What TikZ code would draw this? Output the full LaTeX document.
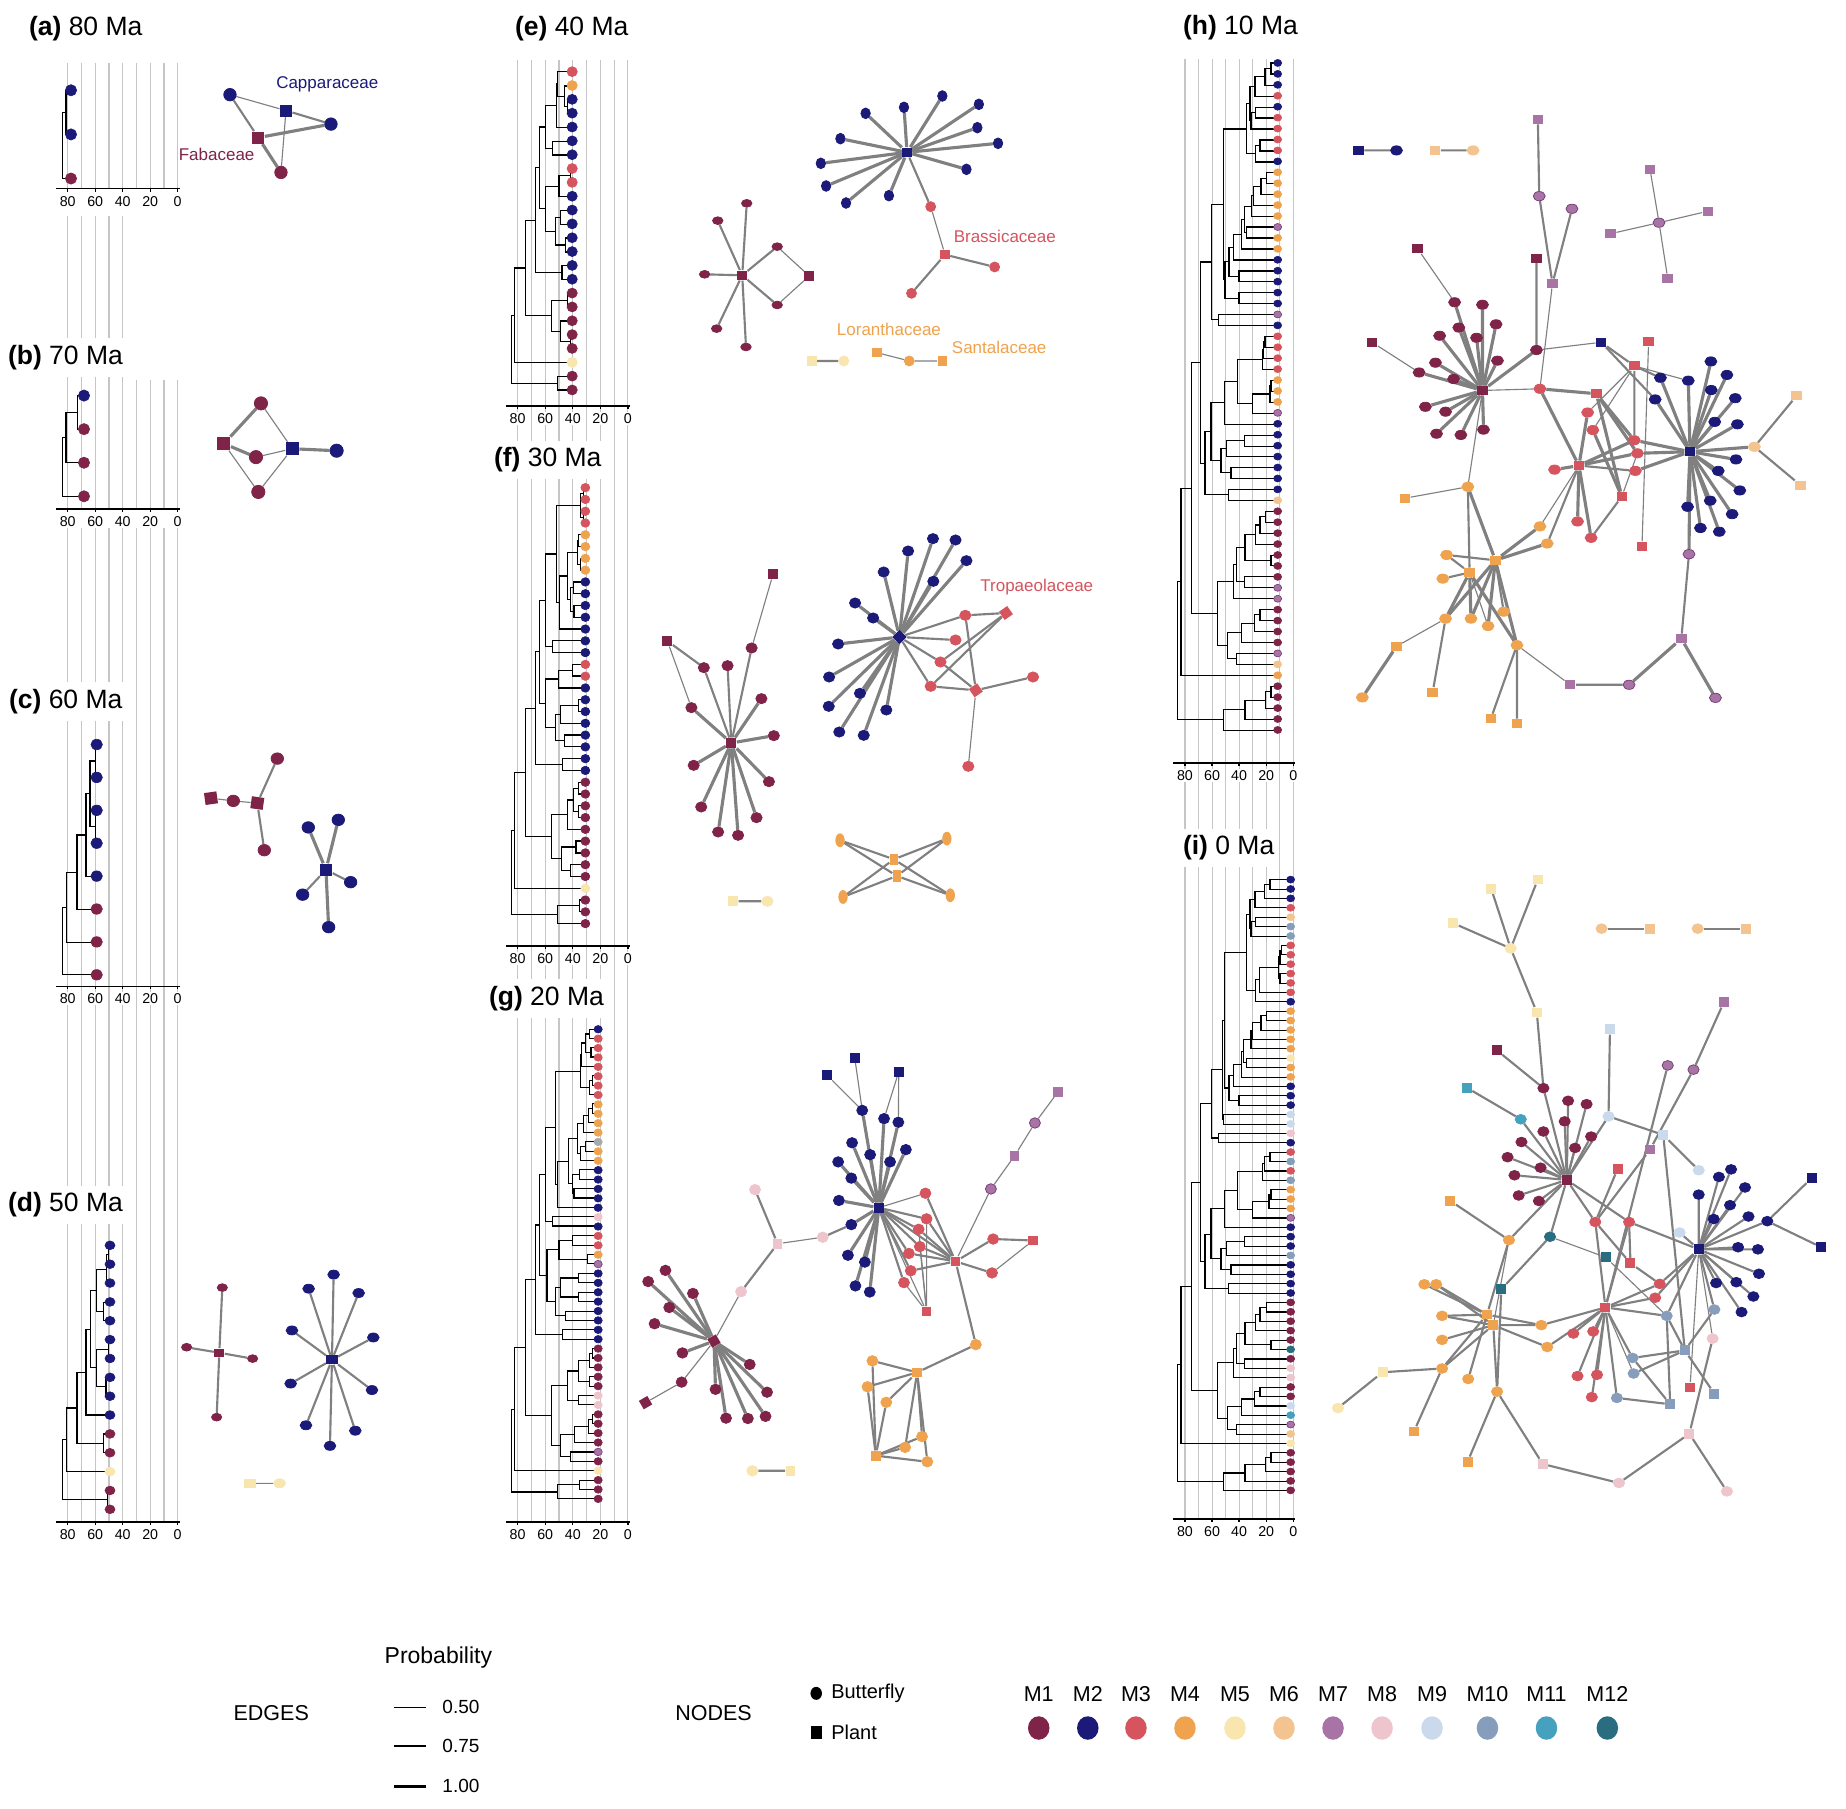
\documentclass[tikz,border=0pt]{standalone}
\usepackage{fontspec}
\setmainfont{Liberation Sans}
\usetikzlibrary{shapes.geometric}
\pgfdeclarelayer{back}
\pgfdeclarelayer{edges}
\pgfsetlayers{back,edges,main}
\definecolor{cM1}{HTML}{7F2349}
\definecolor{cM2}{HTML}{1B1A79}
\definecolor{cM3}{HTML}{D5545E}
\definecolor{cM4}{HTML}{EFA34E}
\definecolor{cM5}{HTML}{F8E6AE}
\definecolor{cM6}{HTML}{F3C48F}
\definecolor{cM7}{HTML}{A874A6}
\definecolor{cM8}{HTML}{EFC5CD}
\definecolor{cM9}{HTML}{CBD9EC}
\definecolor{cM10}{HTML}{869EBC}
\definecolor{cM11}{HTML}{45A1BD}
\definecolor{cM12}{HTML}{2B6D80}
\definecolor{cMG}{HTML}{AAAAAA}
\colorlet{cO1}{cM1}\colorlet{cO2}{cM2}\colorlet{cO3}{cM3}\colorlet{cO4}{cM4}
\colorlet{cO5}{cM5}\colorlet{cO6}{cM6}\definecolor{cO7}{HTML}{763C76}\colorlet{cO8}{cM8}
\colorlet{cO9}{cM9}\colorlet{cO10}{cM10}\colorlet{cO11}{cM11}\colorlet{cO12}{cM12}\colorlet{cOG}{cMG}
\definecolor{edgec}{HTML}{808080}
\definecolor{gridc}{HTML}{C6C6C6}
\def\tpw{4pt}\def\tph{4pt}\def\nbw{4pt}\def\nbh{4pt}\def\npw{4pt}\def\nph{4pt}
\tikzset{
 tr/.style={line width=0.45pt, black},
 grd/.style={line width=0.45pt, gridc},
 ax/.style={line width=0.55pt, black},
 w1/.style={line width=0.45pt, edgec},
 w2/.style={line width=0.85pt, edgec},
 w3/.style={line width=1.25pt, edgec},
 tip/.style={ellipse, inner sep=0pt, minimum width=\tpw, minimum height=\tph, fill=cM#1, draw=cO#1, line width=0.25pt},
 bf/.style={ellipse, inner sep=0pt, minimum width=\nbw, minimum height=\nbh, fill=cM#1, draw=cO#1, line width=0.3pt},
 pl/.style={rectangle, inner sep=0pt, minimum width=\npw, minimum height=\nph, fill=cM#1},
 ttl/.style={fill=white, inner xsep=1pt, inner ysep=2.8pt, anchor=west, font=\fontsize{10.6}{12}\selectfont},
 tck/.style={fill=white, inner sep=0.6pt, font=\fontsize{5.7}{6.5}\selectfont},
 flab/.style={inner sep=0pt, font=\fontsize{6.8}{8}\selectfont},
 tall/.style={minimum width=3.4pt, minimum height=5.2pt},
 lg/.style={inner sep=0pt, font=\fontsize{8.6}{10}\selectfont},
 lgs/.style={inner sep=0pt, font=\fontsize{8}{9}\selectfont},
}
\newcommand\nB[4]{\node[bf=#2] (#1) at (#3,#4) {};}
\newcommand\nP[4]{\node[pl=#2] (#1) at (#3,#4) {};}
\newcommand\Eg[3]{\foreach \q in {#3}{\draw[#1] (#2) -- (\q);}}
\newcommand\TN[5]{\draw[tr] (#3,#2) -| (#1,#4) -- (#5,#4);}
\newcommand\Tips[4]{\foreach \cc [count=\kk] in {#4}{\node[tip=\cc] (#1\kk) at (\TX,{#2+(\kk-1)*#3}) {};}}
\newcommand\Axis[4]{%
 \draw[ax] ({#1-#2*88.5},#3) -- ({#1+#2*1.5},#3);
 \foreach \a in {80,60,40,20,0}{%
 \draw[ax] ({#1-#2*\a},#3) -- ({#1-#2*\a},{#3+3});
 \node[tck] (#4\a) at ({#1-#2*\a},{#3+12.5}) {\a};}}
\begin{document}
\begin{tikzpicture}[x=0.4pt,y=-0.4pt]
\useasboundingbox (0,0) rectangle (1846,1808);
\begin{pgfonlayer}{back}\fill[white] (0,0) rectangle (1846,1808);\end{pgfonlayer}
% ---------- gridlines ----------
\foreach \a in {80,70,...,0}{\draw[grd] ({177.7-1.375*\a},62.5) -- ({177.7-1.375*\a},188.6);}
\foreach \a in {80,70,60,50,40}{\draw[grd] ({177.7-1.375*\a},216) -- ({177.7-1.375*\a},508.8);}
\foreach \a in {30,20,10,0}{\draw[grd] ({177.7-1.375*\a},380) -- ({177.7-1.375*\a},508.8);}
\foreach \a in {80,70,...,0}{\draw[grd] ({177.7-1.375*\a},528) -- ({177.7-1.375*\a},1522);}
\foreach \a in {80,70,...,0}{\draw[grd] ({627.9-1.378*\a},60) -- ({627.9-1.378*\a},1522);}
\foreach \a in {80,70,...,0}{\draw[grd] ({1293.3-1.354*\a},59) -- ({1293.3-1.354*\a},1519);}
% ---------- axes ----------
\Axis{177.7}{1.375}{188.6}{xa}
\Axis{177.7}{1.375}{508.8}{xb}
\Axis{177.7}{1.375}{986.2}{xc}
\Axis{177.7}{1.375}{1522}{xd}
\Axis{627.9}{1.378}{406}{xe}
\Axis{627.9}{1.378}{946}{xf}
\Axis{627.9}{1.378}{1522}{xg}
\Axis{1293.3}{1.354}{763}{xh}
\Axis{1293.3}{1.354}{1519}{xi}
% ---------- titles ----------
\node[ttl] (Ta) at (26,28.7) {\textbf{(a)} 80 Ma};
\node[ttl] (Tb) at (5,357.7) {\textbf{(b)} 70 Ma};
\node[ttl] (Tc) at (6,701.7) {\textbf{(c)} 60 Ma};
\node[ttl] (Td) at (5,1205) {\textbf{(d)} 50 Ma};
\node[ttl] (Te) at (512,28.3) {\textbf{(e)} 40 Ma};
\node[ttl] (Tf) at (491,460) {\textbf{(f)} 30 Ma};
\node[ttl] (Tg) at (486,998.6) {\textbf{(g)} 20 Ma};
\node[ttl] (Th) at (1180,28) {\textbf{(h)} 10 Ma};
\node[ttl] (Ti) at (1180,848) {\textbf{(i)} 0 Ma};
% ---------- panels a, b ----------
\begin{scope}[shift={(0,0)},xscale=0.3333,yscale=0.3381]
\def\TX{213}\def\tpw{4.5pt}\def\tph{4.5pt}
\TN{198}{267}{\TX}{398}{\TX}
\TN{188}{332.5}{198}{528}{\TX}
\Tips{ka}{267}{130.5}{2,2,1}
\def\nbw{5pt}\def\nbh{5pt}\def\npw{4.8pt}\def\nph{4.8pt}
\nB{a1}{2}{690}{280}\nP{a2}{2}{858}{327}\nB{a3}{2}{993}{367}\nP{a4}{1}{775}{407}\nB{a5}{1}{843}{510}
\begin{pgfonlayer}{edges}
\Eg{w1}{a1}{a2}\Eg{w2}{a2}{a3}\Eg{w3}{a4}{a3,a5}\Eg{w2}{a1}{a4}\Eg{w1}{a2}{a5}
\end{pgfonlayer}
\node[flab, text=cM2] (la1) at (982,250) {Capparaceae};
\node[flab, text=cM1] (la2) at (650,457) {Fabaceae};
\def\TX{252}
\TN{232}{1170}{\TX}{1270}{\TX}
\TN{198}{1220}{232}{1368}{\TX}
\TN{188}{1294}{198}{1468}{\TX}
\Tips{kb}{1170}{99.3}{2,1,1,1}
\def\nbw{5.3pt}\def\nbh{5.3pt}\def\npw{5.2pt}\def\nph{5.2pt}
\nP{b1}{1}{672}{1312}\nB{b2}{1}{783}{1193}\nB{b3}{1}{768}{1352}\nB{b4}{1}{775}{1455}\nP{b5}{2}{877}{1327}\nB{b6}{2}{1010}{1333}
\begin{pgfonlayer}{edges}
\Eg{w3}{b1}{b2,b3}\Eg{w1}{b1}{b4}\Eg{w1}{b5}{b2,b3,b4}\Eg{w3}{b5}{b6}
\end{pgfonlayer}
\end{scope}
% ---------- panels c, d ----------
\begin{scope}[shift={(0,680)},xscale=0.3333,yscale=0.542]
\def\TX{290}\def\tpw{4.6pt}\def\tph{4.2pt}
\TN{287}{119}{\TX}{180}{\TX}
\TN{287}{240}{\TX}{301}{\TX}
\TN{270}{149.5}{287}{270.5}{287}
\TN{258}{210}{270}{362}{\TX}
\TN{231}{286}{258}{423}{\TX}
\TN{199}{354.5}{231}{484}{\TX}
\TN{188}{419}{199}{544}{\TX}
\Tips{kc}{119}{60.7}{2,2,2,2,2,1,1,1}
\def\nbw{5pt}\def\nbh{4.6pt}\def\npw{5pt}\def\nph{4.8pt}
\node[pl=1,rotate=8] (c1) at (633,218) {};
\nB{c2}{1}{700}{223}
\node[pl=1,rotate=-8] (c3) at (772,227) {};
\nB{c4}{1}{832}{145}\nB{c5}{1}{793}{314}
\nP{c6}{2}{978}{350}\nB{c7}{2}{925}{272}\nB{c8}{2}{1015}{258}\nB{c9}{2}{1052}{373}\nB{c10}{2}{908}{396}\nB{c11}{2}{986}{456}
\begin{pgfonlayer}{edges}
\Eg{w1}{c2}{c1,c3}\Eg{w2}{c3}{c4,c5}\Eg{w3}{c6}{c7,c8,c11}\Eg{w2}{c6}{c9,c10}
\end{pgfonlayer}
\def\TX{330}\def\tpw{4pt}\def\tph{3.5pt}
\TN{325}{1043}{\TX}{1078}{\TX}
\TN{320}{1060.5}{325}{1113}{\TX}
\TN{310}{1148}{\TX}{1182}{\TX}
\TN{290}{1087}{320}{1165}{310}
\TN{326}{1217}{\TX}{1252}{\TX}
\TN{318}{1287}{\TX}{1321}{\TX}
\TN{290}{1234.5}{326}{1304}{318}
\TN{271}{1126}{290}{1269}{290}
\TN{258}{1197.5}{271}{1356}{\TX}
\TN{310}{1391}{\TX}{1426}{\TX}
\TN{231}{1277}{258}{1408.5}{310}
\TN{199}{1343}{231}{1460}{\TX}
\TN{323}{1495}{\TX}{1530}{\TX}
\TN{188}{1401.5}{199}{1512.5}{323}
\Tips{kd}{1043}{34.79}{2,2,2,2,2,2,2,2,2,2,1,1,5,1,1}
\def\nbw{4.1pt}\def\nbh{3.1pt}\def\npw{4pt}\def\nph{3.3pt}
\nP{d1}{1}{658}{1241}\nB{d2}{1}{667}{1121}\nB{d3}{1}{560}{1231}\nB{d4}{1}{758}{1252}\nB{d5}{1}{650}{1360}
\def\nbw{4.7pt}\def\nbh{3.6pt}\def\npw{4.5pt}\def\nph{3.6pt}
\nP{d6}{2}{996}{1254}
\nB{d7}{2}{1001}{1097}\nB{d8}{2}{926}{1123}\nB{d9}{2}{1076}{1131}\nB{d10}{2}{876}{1200}\nB{d11}{2}{1120}{1213}\nB{d12}{2}{872}{1298}\nB{d13}{2}{1116}{1310}\nB{d14}{2}{918}{1375}\nB{d15}{2}{1066}{1385}\nB{d16}{2}{990}{1413}
\nP{d17}{5}{750}{1482}\nB{d18}{5}{839}{1482}
\begin{pgfonlayer}{edges}
\Eg{w2}{d1}{d2,d3,d4,d5}
\Eg{w2}{d6}{d7,d8,d9,d10,d11,d12,d13,d14,d15,d16}
\Eg{w1}{d17}{d18}
\end{pgfonlayer}
\end{scope}
% ---------- panel e ----------
\begin{scope}[shift={(480,0)},xscale=0.3762,yscale=0.3333]
\def\TX{245}\def\tpw{4.1pt}\def\tph{4pt}
\TN{233}{299}{\TX}{341}{\TX}
\TN{225}{258}{\TX}{320}{233}
\TN{207}{215}{\TX}{289}{225}
\TN{203}{252}{207}{382}{\TX}
\TN{192}{424}{\TX}{465}{\TX}
\TN{175}{317}{203}{444.5}{192}
\TN{240}{507}{\TX}{548}{\TX}
\TN{210}{527.5}{240}{590}{\TX}
\TN{215}{631}{\TX}{673}{\TX}
\TN{228}{714}{\TX}{756}{\TX}
\TN{200}{652}{215}{735}{228}
\TN{175}{559}{210}{693.5}{200}
\TN{158}{381}{175}{626}{175}
\TN{218}{797}{\TX}{839}{\TX}
\TN{148}{503.5}{158}{818}{218}
\TN{233}{880}{\TX}{922}{\TX}
\TN{240}{1004}{\TX}{1046}{\TX}
\TN{215}{963}{\TX}{1025}{240}
\TN{190}{901}{233}{994}{215}
\TN{122}{661}{148}{947.5}{190}
\TN{92}{804}{122}{1087}{\TX}
\TN{205}{1129}{\TX}{1170}{\TX}
\TN{84}{945.5}{92}{1149.5}{205}
\Tips{ke}{215}{41.52}{3,4,2,2,2,2,2,3,3,2,2,2,2,2,2,2,1,1,1,1,1,5,1,1}
\def\nbw{3.8pt}\def\nbh{4.3pt}\def\npw{3.8pt}\def\nph{3.8pt}
\nP{e1}{2}{1135}{457}
\nB{e2}{2}{1025}{340}\nB{e3}{2}{1127}{322}\nB{e4}{2}{1229}{288}\nB{e5}{2}{1326}{313}\nB{e6}{2}{1322}{383}\nB{e7}{2}{1377}{430}\nB{e8}{2}{1293}{508}\nB{e9}{2}{958}{416}\nB{e10}{2}{906}{490}\nB{e11}{2}{920}{558}\nB{e12}{2}{973}{609}\nB{e13}{2}{1087}{587}
\def\nbw{4pt}\def\nbh{4pt}
\nB{e14}{3}{1198}{620}\nP{e15}{3}{1236}{764}\nB{e16}{3}{1368}{801}\nB{e17}{3}{1147}{880}
\def\nbw{4.2pt}\def\nbh{3.1pt}
\nP{e18}{1}{697}{826}\nB{e19}{1}{709}{610}\nB{e20}{1}{632}{662}\nB{e21}{1}{597}{823}\nB{e22}{1}{629}{986}\nB{e23}{1}{707}{1041}\nB{e24}{1}{790}{740}\nB{e25}{1}{790}{915}\nP{e26}{1}{875}{828}
\def\nbw{4pt}\def\nbh{4pt}
\nP{e27}{5}{882}{1083}\nB{e28}{5}{967}{1083}
\nP{e29}{4}{1055}{1058}\nB{e30}{4}{1141}{1083}\nP{e31}{4}{1229}{1083}
\begin{pgfonlayer}{edges}
\Eg{w3}{e1}{e2,e3,e4,e5,e6,e7,e8,e9,e10,e11,e12,e13}
\Eg{w2}{e1}{e14}\Eg{w1}{e14}{e15}\Eg{w2}{e15}{e16,e17}
\Eg{w2}{e18}{e19,e20,e21,e22,e23,e24,e25}\Eg{w1}{e26}{e24,e25}
\Eg{w2}{e27}{e28}\Eg{w1}{e30}{e29,e31}
\end{pgfonlayer}
\node[flab, text=cM3] (le1) at (1395,708) {Brassicaceae};
\node[flab, text=cM4] (le2) at (1087,988) {Loranthaceae};
\node[flab, text=cM4] (le3) at (1380,1042) {Santalaceae};
\end{scope}
% ---------- panel f ----------
\begin{scope}[shift={(480,447)},xscale=0.3762,yscale=0.3333]
\def\TX{280}\def\tpw{3.6pt}\def\tph{3.4pt}
\TN{276}{122}{\TX}{157}{\TX}
\TN{276}{193}{\TX}{228}{\TX}
\TN{268}{139.5}{276}{210.5}{276}
\TN{262}{263}{\TX}{299}{\TX}
\TN{268}{334}{\TX}{369}{\TX}
\TN{258}{281}{262}{351.5}{268}
\TN{248}{405}{\TX}{440}{\TX}
\TN{250}{476}{\TX}{511}{\TX}
\TN{240}{422.5}{248}{493.5}{250}
\TN{232}{316}{258}{458}{240}
\TN{212}{387}{232}{546}{\TX}
\TN{204}{175}{268}{466.5}{212}
\TN{192}{581}{\TX}{617}{\TX}
\TN{175}{321}{204}{599}{192}
\TN{245}{652}{\TX}{687}{\TX}
\TN{208}{669.5}{245}{723}{\TX}
\TN{262}{758}{\TX}{794}{\TX}
\TN{215}{776}{262}{829}{\TX}
\TN{225}{864}{\TX}{899}{\TX}
\TN{200}{802.5}{215}{881.5}{225}
\TN{175}{696}{208}{842}{200}
\TN{220}{935}{\TX}{970}{\TX}
\TN{157}{460}{175}{769}{175}
\TN{148}{614.5}{157}{952.5}{220}
\TN{262}{1006}{\TX}{1041}{\TX}
\TN{262}{1076}{\TX}{1112}{\TX}
\TN{248}{1023.5}{262}{1094}{262}
\TN{232}{1059}{248}{1147}{\TX}
\TN{255}{1182}{\TX}{1218}{\TX}
\TN{240}{1253}{\TX}{1288}{\TX}
\TN{216}{1200}{255}{1270.5}{240}
\TN{190}{1103}{232}{1235}{216}
\TN{122}{783.5}{148}{1169}{190}
\TN{92}{976}{122}{1324}{\TX}
\TN{265}{1359}{\TX}{1394}{\TX}
\TN{205}{1376.5}{265}{1430}{\TX}
\TN{84}{1150}{92}{1403}{205}
\Tips{kf}{122}{35.35}{3,3,3,3,4,4,4,4,2,2,2,2,2,2,2,3,3,2,2,2,2,2,2,2,2,1,1,1,1,1,1,1,1,1,5,1,1,1}
\def\nbw{4.5pt}\def\nbh{4.1pt}\def\npw{4pt}\def\nph{4pt}
\nP{f1}{1}{668}{888}
\nB{f2}{1}{595}{662}\nB{f3}{1}{658}{656}\nB{f4}{1}{722}{603}\nB{f5}{1}{562}{782}\nB{f6}{1}{748}{755}\nB{f7}{1}{781}{866}\nB{f8}{1}{568}{955}\nB{f9}{1}{768}{1004}\nB{f10}{1}{588}{1080}\nB{f11}{1}{633}{1155}\nB{f12}{1}{686}{1165}\nB{f13}{1}{735}{1112}
\nP{f14}{1}{498}{582}\nP{f15}{1}{779}{381}
\node[pl=2,rotate=45] (f16) at (1115,570) {};
\nB{f17}{2}{1073}{375}\nB{f18}{2}{1138}{312}\nB{f19}{2}{1204}{275}\nB{f20}{2}{1264}{279}\nB{f21}{2}{1293}{341}\nB{f22}{2}{1205}{403}\nB{f23}{2}{997}{468}\nB{f24}{2}{1045}{513}\nB{f25}{2}{952}{591}\nB{f26}{2}{928}{690}\nB{f27}{2}{1010}{739}\nB{f28}{2}{927}{778}\nB{f29}{2}{1080}{789}\nB{f30}{2}{955}{855}\nB{f31}{2}{1020}{865}
\node[pl=3,rotate=35] (f32) at (1398,498) {};
\node[pl=3,rotate=35] (f33) at (1318,730) {};
\nB{f34}{3}{1290}{505}\nB{f35}{3}{1264}{579}\nB{f36}{3}{1224}{645}\nB{f37}{3}{1198}{718}\nB{f38}{3}{1470}{690}\nB{f39}{3}{1298}{958}
\node[pl=4,minimum width=3.3pt,minimum height=4.6pt] (f40) at (1100,1237) {};
\node[pl=4,minimum width=3.3pt,minimum height=4.6pt] (f41) at (1108,1287) {};
\node[bf=4,tall] (f42) at (957,1180) {};
\node[bf=4,tall] (f43) at (1241,1175) {};
\node[bf=4,tall] (f44) at (965,1350) {};
\node[bf=4,tall] (f45) at (1250,1345) {};
\nP{f46}{5}{673}{1363}\nB{f47}{5}{764}{1363}
\begin{pgfonlayer}{edges}
\Eg{w2}{f1}{f2,f3,f4}\Eg{w3}{f1}{f5,f6,f7,f8,f9,f10,f11,f12,f13}
\Eg{w2}{f14}{f2}\Eg{w1}{f14}{f5}\Eg{w1}{f15}{f4}
\Eg{w3}{f16}{f17,f18,f19,f20,f21,f22,f23,f24,f25,f26,f27,f28,f29,f30,f31}
\Eg{w2}{f16}{f34,f35,f36,f37}
\Eg{w2}{f32}{f34,f36,f37}
\Eg{w2}{f33}{f34,f36,f37,f38}\Eg{w1}{f33}{f39}
\Eg{w2}{f40}{f42,f43,f44,f45}\Eg{w2}{f41}{f42,f43,f44,f45}
\Eg{w2}{f46}{f47}
\end{pgfonlayer}
\node[flab, text=cM3] (lf1) at (1480,421) {Tropaeolaceae};
\end{scope}
% ---------- panel g ----------
\begin{scope}[shift={(480,977)},xscale=0.3762,yscale=0.3604]
\def\TX{314}\def\tpw{3.3pt}\def\tph{3pt}
\TN{290}{145}{\TX}{170}{\TX}
\TN{295}{196}{\TX}{222}{\TX}
\TN{280}{158}{290}{209}{295}
\TN{270}{183}{280}{248}{\TX}
\TN{298}{274}{\TX}{300}{\TX}
\TN{290}{287}{298}{326}{\TX}
\TN{268}{216}{270}{306}{290}
\TN{300}{352}{\TX}{378}{\TX}
\TN{288}{365}{300}{404}{\TX}
\TN{275}{384}{288}{431}{\TX}
\TN{280}{457}{\TX}{483}{\TX}
\TN{268}{470}{280}{509}{\TX}
\TN{260}{407}{275}{489}{268}
\TN{265}{535}{\TX}{561}{\TX}
\TN{250}{587}{\TX}{613}{\TX}
\TN{245}{548}{265}{600}{250}
\TN{235}{448}{260}{574}{245}
\TN{205}{511}{235}{639}{\TX}
\TN{200}{261}{268}{575}{205}
\TN{192}{665}{\TX}{691}{\TX}
\TN{175}{418}{200}{678}{192}
\TN{245}{717}{\TX}{744}{\TX}
\TN{285}{770}{\TX}{796}{\TX}
\TN{210}{730}{245}{783}{285}
\TN{262}{822}{\TX}{848}{\TX}
\TN{262}{875}{\TX}{901}{\TX}
\TN{215}{835}{262}{888}{262}
\TN{228}{927}{\TX}{953}{\TX}
\TN{200}{861}{215}{940}{228}
\TN{178}{757}{210}{900}{200}
\TN{220}{979}{\TX}{1005}{\TX}
\TN{157}{548}{175}{829}{178}
\TN{148}{688}{157}{992}{220}
\TN{298}{1031}{\TX}{1057}{\TX}
\TN{292}{1044}{298}{1083}{\TX}
\TN{290}{1109}{\TX}{1135}{\TX}
\TN{262}{1063}{292}{1122}{290}
\TN{262}{1161}{\TX}{1187}{\TX}
\TN{232}{1093}{262}{1174}{262}
\TN{300}{1214}{\TX}{1240}{\TX}
\TN{288}{1227}{300}{1266}{\TX}
\TN{252}{1247}{288}{1292}{\TX}
\TN{240}{1318}{\TX}{1344}{\TX}
\TN{215}{1270}{252}{1331}{240}
\TN{190}{1133}{232}{1300}{215}
\TN{122}{840}{148}{1217}{190}
\TN{92}{1028}{122}{1370}{\TX}
\TN{265}{1396}{\TX}{1422}{\TX}
\TN{205}{1409}{265}{1448}{\TX}
\TN{84}{1199}{92}{1429}{205}
\Tips{kg}{145}{26.06}{2,3,3,3,3,3,3,3,4,4,4,4,G,4,4,2,2,2,2,2,8,2,3,3,4,7,2,2,2,2,2,2,2,2,1,1,1,1,1,8,8,1,1,1,1,7,1,5,1,1,1}
\def\nbw{4.4pt}\def\nbh{4.2pt}\def\npw{3.9pt}\def\nph{3.9pt}
\nP{g1}{2}{1060}{640}\nP{g2}{2}{922}{272}\nP{g3}{2}{996}{224}\nP{g4}{2}{1113}{263}
\nB{g5}{2}{1016}{370}\nB{g6}{2}{1074}{393}\nB{g7}{2}{1112}{403}\nB{g8}{2}{989}{460}\nB{g9}{2}{1037}{493}\nB{g10}{2}{1090}{513}\nB{g11}{2}{1132}{479}\nB{g12}{2}{952}{513}\nB{g13}{2}{987}{558}\nB{g14}{2}{954}{620}\nB{g15}{2}{987}{687}\nB{g16}{2}{978}{772}\nB{g17}{2}{1023}{791}\nB{g18}{2}{998}{857}\nB{g19}{2}{1036}{874}
\nB{g20}{3}{1184}{600}\nB{g21}{3}{1187}{671}\nB{g22}{3}{1166}{700}\nB{g23}{3}{1169}{748}\nB{g24}{3}{1140}{767}\nB{g25}{3}{1145}{815}\nB{g26}{3}{1127}{848}\nB{g27}{3}{1364}{727}\nB{g28}{3}{1361}{821}
\nP{g29}{3}{1264}{789}\nP{g30}{3}{1187}{928}\nP{g31}{3}{1470}{731}
\nP{g32}{7}{1537}{318}\nB{g33}{7}{1475}{405}\nP{g34}{7}{1421}{496}\nB{g35}{7}{1358}{588}
\nB{g36}{4}{1318}{1020}\nP{g37}{4}{1162}{1097}\nB{g38}{4}{1043}{1065}\nB{g39}{4}{1030}{1137}\nB{g40}{4}{1080}{1180}\nB{g41}{4}{1175}{1275}\nB{g42}{4}{1130}{1305}\nB{g43}{4}{1189}{1345}\nP{g44}{4}{1052}{1328}
\nB{g45}{8}{731}{590}\nP{g46}{8}{791}{740}\nB{g47}{8}{911}{722}\nB{g48}{8}{694}{873}
\node[pl=1,rotate=30] (g49) at (622,1010) {};
\nB{g50}{1}{493}{814}\nB{g51}{1}{447}{845}\nB{g52}{1}{566}{878}\nB{g53}{1}{503}{917}\nB{g54}{1}{464}{962}\nB{g55}{1}{538}{1043}\nB{g56}{1}{536}{1124}\nB{g57}{1}{717}{1075}\nB{g58}{1}{763}{1152}\nB{g59}{1}{626}{1144}\nB{g60}{1}{654}{1224}\nB{g61}{1}{712}{1225}\nB{g62}{1}{759}{1219}
\node[pl=1,rotate=30] (g63) at (440,1181) {};
\nB{g64}{5}{724}{1370}\nP{g65}{5}{825}{1370}
\begin{pgfonlayer}{edges}
\Eg{w1}{g5}{g2,g3}\Eg{w1}{g4}{g6,g7}
\Eg{w3}{g1}{g5,g6,g7,g8,g9,g10,g11,g12,g13,g14,g15,g16,g17,g18,g19}
\Eg{w1}{g1}{g20,g30}\Eg{w2}{g1}{g21,g22,g23,g24,g25,g26,g29}
\Eg{w2}{g29}{g20,g21,g22,g23,g24,g25,g27,g28,g36}
\Eg{w2}{g27}{g31}\Eg{w1}{g28}{g31}
\Eg{w1}{g30}{g21,g22,g23,g26}
\Eg{w1}{g33}{g32,g34}\Eg{w1}{g35}{g34,g29}
\Eg{w2}{g36}{g37}
\Eg{w2}{g37}{g38,g39,g40,g41,g42,g43}\Eg{w2}{g44}{g38,g39,g40,g41,g42,g43}
\Eg{w2}{g46}{g45,g48}\Eg{w1}{g46}{g47}\Eg{w2}{g47}{g15}\Eg{w1}{g48}{g49}
\Eg{w3}{g49}{g50,g51,g52,g53,g54,g55,g57,g58,g59,g60,g61,g62}\Eg{w1}{g49}{g56}\Eg{w1}{g56}{g63}
\Eg{w2}{g64}{g65}
\end{pgfonlayer}
\end{scope}
% ---------- panel h tree ----------
\begin{scope}[shift={(1165,40)},xscale=0.3333,yscale=0.4783]
\def\TX{338}\def\tpw{3.2pt}\def\tph{2.8pt}
\TN{318}{48}{\TX}{71}{\TX}
\TN{300}{60}{318}{95}{\TX}
\TN{270}{77}{300}{118}{\TX}
\TN{272}{141}{\TX}{163}{\TX}
\TN{258}{152}{272}{186}{\TX}
\TN{255}{98}{270}{169}{258}
\TN{285}{209}{\TX}{232}{\TX}
\TN{272}{221}{285}{255}{\TX}
\TN{245}{133}{255}{238}{272}
\TN{305}{277}{\TX}{300}{\TX}
\TN{288}{289}{305}{323}{\TX}
\TN{265}{306}{288}{346}{\TX}
\TN{260}{326}{265}{369}{\TX}
\TN{245}{391}{\TX}{414}{\TX}
\TN{238}{348}{260}{403}{245}
\TN{230}{375}{238}{437}{\TX}
\TN{205}{406}{230}{460}{\TX}
\TN{222}{483}{\TX}{505}{\TX}
\TN{192}{433}{205}{494}{222}
\TN{222}{528}{\TX}{551}{\TX}
\TN{180}{463}{192}{540}{222}
\TN{175}{186}{245}{501}{180}
\TN{160}{574}{\TX}{597}{\TX}
\TN{140}{343}{175}{585}{160}
\TN{300}{620}{\TX}{643}{\TX}
\TN{295}{631}{300}{666}{\TX}
\TN{292}{648}{295}{688}{\TX}
\TN{318}{711}{\TX}{734}{\TX}
\TN{315}{722}{318}{757}{\TX}
\TN{262}{740}{315}{780}{\TX}
\TN{218}{668}{292}{760}{262}
\TN{178}{714}{218}{803}{\TX}
\TN{238}{826}{\TX}{849}{\TX}
\TN{185}{837}{238}{871}{\TX}
\TN{198}{894}{\TX}{917}{\TX}
\TN{168}{854}{185}{905}{198}
\TN{138}{758}{178}{880}{168}
\TN{190}{940}{\TX}{963}{\TX}
\TN{120}{819}{138}{951}{190}
\TN{107}{464}{140}{885}{120}
\TN{302}{986}{\TX}{1008}{\TX}
\TN{285}{997}{302}{1031}{\TX}
\TN{272}{1014}{285}{1054}{\TX}
\TN{318}{1077}{\TX}{1099}{\TX}
\TN{240}{1034}{272}{1088}{318}
\TN{238}{1122}{\TX}{1145}{\TX}
\TN{215}{1061}{240}{1133}{238}
\TN{205}{1097}{215}{1168}{\TX}
\TN{285}{1191}{\TX}{1214}{\TX}
\TN{268}{1202}{285}{1236}{\TX}
\TN{230}{1219}{268}{1259}{\TX}
\TN{215}{1282}{\TX}{1305}{\TX}
\TN{188}{1239}{230}{1293}{215}
\TN{158}{1132}{205}{1266}{188}
\TN{80}{675}{107}{1199}{158}
\TN{48}{937}{80}{1328}{\TX}
\TN{318}{1351}{\TX}{1374}{\TX}
\TN{302}{1362}{318}{1397}{\TX}
\TN{240}{1380}{302}{1420}{\TX}
\TN{175}{1400}{240}{1443}{\TX}
\TN{38}{1132}{48}{1421}{175}
\Tips{kh}{48}{22.86}{2,2,2,3,2,3,3,3,3,2,4,4,4,4,4,7,4,4,2,2,2,2,2,7,2,3,3,3,3,4,4,4,7,2,2,2,2,2,2,2,6,1,1,1,1,1,1,1,7,7,1,1,1,1,7,6,4,1,1,1,1,1}
\end{scope}
% ---------- panel h network ----------
\begin{scope}[shift={(1300,90)},xscale=0.3482,yscale=0.4082]
\def\nbw{4.8pt}\def\nbh{3.7pt}\def\npw{4.2pt}\def\nph{3.6pt}
\nP{H1}{2}{168}{148}\nB{H2}{2}{277}{148}
\nP{H3}{6}{388}{148}\nB{H4}{6}{497}{148}
\nP{H5}{7}{683}{72}\nB{H6}{7}{687}{260}\nB{H7}{7}{781}{291}\nP{H8}{7}{725}{474}
\nB{H9}{7}{1031}{325}\nP{H10}{7}{1005}{194}\nP{H11}{7}{1171}{297}\nP{H12}{7}{892}{352}\nP{H13}{7}{1056}{462}
\nP{H14}{1}{524}{736}
\nB{H15}{1}{444}{520}\nB{H16}{1}{524}{526}\nB{H17}{1}{563}{574}\nB{H18}{1}{456}{582}\nB{H19}{1}{401}{602}\nB{H20}{1}{507}{607}\nB{H21}{1}{567}{663}\nB{H22}{1}{389}{668}\nB{H23}{1}{342}{692}\nB{H24}{1}{441}{708}\nB{H25}{1}{360}{776}\nB{H26}{1}{418}{788}\nB{H27}{1}{392}{842}\nB{H28}{1}{462}{845}\nB{H29}{1}{527}{832}\nB{H30}{1}{679}{637}
\nP{H31}{1}{338}{389}\nP{H32}{1}{207}{618}\nP{H33}{1}{679}{412}
\nP{H34}{2}{865}{618}
\nB{H35}{3}{689}{732}
\nP{H36}{3}{851}{744}\nP{H37}{3}{1001}{617}\nP{H38}{3}{960}{676}\nP{H39}{3}{924}{996}\nP{H40}{3}{982}{1118}\nP{H41}{3}{801}{920}
\nB{H42}{3}{826}{790}\nB{H43}{3}{841}{833}\nB{H44}{3}{960}{858}\nB{H45}{3}{969}{890}\nB{H46}{3}{963}{933}\nB{H47}{3}{731}{930}\nB{H48}{3}{797}{1057}\nB{H49}{3}{836}{1097}
\nP{H50}{2}{1120}{886}
\nB{H51}{2}{1180}{665}\nB{H52}{2}{1226}{698}\nB{H53}{2}{1035}{705}\nB{H54}{2}{1115}{712}\nB{H55}{2}{1181}{735}\nB{H56}{2}{1020}{758}\nB{H57}{2}{1250}{755}\nB{H58}{2}{1191}{813}\nB{H59}{2}{1256}{819}\nB{H60}{2}{1252}{905}\nB{H61}{2}{1201}{933}\nB{H62}{2}{1263}{981}\nB{H63}{2}{1178}{1006}\nB{H64}{2}{1113}{1021}\nB{H65}{2}{1241}{1039}\nB{H66}{2}{1150}{1073}\nB{H67}{2}{1204}{1082}
\nB{H68}{6}{1305}{874}\nP{H69}{6}{1426}{749}\nP{H70}{6}{1437}{968}
\nB{H71}{7}{1117}{1137}\nP{H72}{7}{1095}{1344}\nB{H73}{7}{945}{1457}\nP{H74}{7}{776}{1457}\nB{H75}{7}{1193}{1489}
\nB{H76}{4}{482}{972}\nB{H77}{4}{689}{1069}\nB{H78}{4}{710}{1111}\nB{H79}{4}{421}{1139}\nB{H80}{4}{410}{1197}\nB{H81}{4}{418}{1295}\nB{H82}{4}{491}{1295}\nB{H83}{4}{540}{1313}\nB{H84}{4}{585}{1278}\nB{H85}{4}{623}{1360}\nB{H86}{4}{179}{1488}
\nP{H87}{4}{301}{1000}\nP{H88}{4}{561}{1152}\nP{H89}{4}{487}{1182}\nP{H90}{4}{277}{1363}\nP{H91}{4}{381}{1475}\nP{H92}{4}{548}{1540}\nP{H93}{4}{623}{1552}
\begin{pgfonlayer}{edges}
\Eg{w2}{H1}{H2}\Eg{w2}{H3}{H4}
\Eg{w2}{H6}{H5,H8}\Eg{w2}{H7}{H8}
\Eg{w1}{H9}{H10,H11,H12,H13}
\Eg{w3}{H14}{H15,H16,H17,H18,H19,H20,H21,H22,H23,H24,H25,H26,H27,H28,H29,H30}
\Eg{w1}{H31}{H15}\Eg{w1}{H32}{H23}\Eg{w2}{H33}{H30}
\Eg{w1}{H30}{H34}
\Eg{w1}{H14}{H35,H76}\Eg{w1}{H35}{H8}\Eg{w3}{H35}{H36,H41}
\Eg{w2}{H34}{H38,H56}
\Eg{w2}{H38}{H53,H44}\Eg{w1}{H38}{H54,H42,H43}
\Eg{w1}{H37}{H40}
\Eg{w3}{H36}{H44,H45,H39}\Eg{w2}{H39}{H49}\Eg{w1}{H39}{H45}
\Eg{w3}{H41}{H42,H47,H48,H49,H44,H45}\Eg{w2}{H41}{H46,H78}\Eg{w1}{H41}{H77}\Eg{w3}{H43}{H39}
\Eg{w3}{H50}{H44,H45,H46,H51,H52,H53,H54,H55,H56,H57,H58,H59,H60,H61,H62,H63,H64,H65,H66,H67,H68,H71}
\Eg{w2}{H68}{H69,H70}
\Eg{w2}{H71}{H72}\Eg{w3}{H72}{H73,H75}\Eg{w2}{H73}{H74}\Eg{w1}{H74}{H85}
\Eg{w1}{H76}{H87}\Eg{w2}{H76}{H89}\Eg{w3}{H76}{H88}
\Eg{w3}{H88}{H77,H78,H81,H82,H83,H85}\Eg{w2}{H88}{H79,H84}
\Eg{w2}{H89}{H79,H80}\Eg{w3}{H89}{H81,H82,H85}\Eg{w1}{H89}{H83}
\Eg{w1}{H81}{H90}\Eg{w3}{H90}{H86}\Eg{w2}{H81}{H91}\Eg{w2}{H85}{H92,H93}
\end{pgfonlayer}
\end{scope}
% ---------- panel i tree ----------
\begin{scope}[shift={(1165,860)},xscale=0.3333,yscale=0.435]
\def\TX{377}\def\tpw{3.2pt}\def\tph{2.8pt}
\TN{315}{45}{\TX}{67}{\TX}
\TN{298}{56}{315}{89}{\TX}
\TN{270}{72}{298}{110}{\TX}
\TN{272}{132}{\TX}{153}{\TX}
\TN{258}{142}{272}{175}{\TX}
\TN{255}{91}{270}{158}{258}
\TN{350}{196}{\TX}{218}{\TX}
\TN{345}{207}{350}{240}{\TX}
\TN{345}{261}{\TX}{283}{\TX}
\TN{340}{223}{345}{272}{345}
\TN{283}{247}{340}{304}{\TX}
\TN{272}{275}{283}{326}{\TX}
\TN{245}{125}{255}{300}{272}
\TN{305}{348}{\TX}{369}{\TX}
\TN{288}{358}{305}{391}{\TX}
\TN{262}{374}{288}{412}{\TX}
\TN{258}{393}{262}{434}{\TX}
\TN{245}{456}{\TX}{477}{\TX}
\TN{235}{413}{258}{466}{245}
\TN{230}{440}{235}{499}{\TX}
\TN{205}{470}{230}{520}{\TX}
\TN{222}{542}{\TX}{564}{\TX}
\TN{192}{495}{205}{553}{222}
\TN{178}{213}{245}{524}{192}
\TN{176}{585}{\TX}{607}{\TX}
\TN{172}{368}{178}{596}{176}
\TN{160}{628}{\TX}{650}{\TX}
\TN{140}{482}{172}{639}{160}
\TN{315}{672}{\TX}{693}{\TX}
\TN{298}{682}{315}{715}{\TX}
\TN{292}{698}{298}{736}{\TX}
\TN{318}{758}{\TX}{780}{\TX}
\TN{312}{769}{318}{801}{\TX}
\TN{262}{785}{312}{823}{\TX}
\TN{218}{717}{292}{804}{262}
\TN{178}{760}{218}{844}{\TX}
\TN{238}{866}{\TX}{888}{\TX}
\TN{185}{877}{238}{909}{\TX}
\TN{198}{931}{\TX}{952}{\TX}
\TN{168}{893}{185}{941}{198}
\TN{138}{802}{178}{917}{168}
\TN{190}{974}{\TX}{996}{\TX}
\TN{120}{860}{138}{985}{190}
\TN{107}{560}{140}{922}{120}
\TN{305}{1017}{\TX}{1039}{\TX}
\TN{285}{1028}{305}{1060}{\TX}
\TN{272}{1044}{285}{1082}{\TX}
\TN{318}{1104}{\TX}{1125}{\TX}
\TN{240}{1063}{272}{1114}{318}
\TN{238}{1147}{\TX}{1168}{\TX}
\TN{215}{1089}{240}{1157}{238}
\TN{205}{1123}{215}{1190}{\TX}
\TN{285}{1212}{\TX}{1233}{\TX}
\TN{268}{1222}{285}{1255}{\TX}
\TN{230}{1239}{268}{1276}{\TX}
\TN{215}{1298}{\TX}{1320}{\TX}
\TN{188}{1257}{230}{1309}{215}
\TN{158}{1156}{205}{1283}{188}
\TN{80}{741}{107}{1220}{158}
\TN{48}{980}{80}{1341}{\TX}
\TN{318}{1363}{\TX}{1384}{\TX}
\TN{302}{1373}{318}{1406}{\TX}
\TN{240}{1390}{302}{1428}{\TX}
\TN{175}{1409}{240}{1449}{\TX}
\TN{38}{1160}{48}{1429}{175}
\Tips{ki}{45}{21.6}{2,2,2,3,6,10,10,3,3,3,3,3,3,2,4,4,4,4,4,5,4,4,2,2,2,9,9,8,2,3,10,3,10,4,4,4,7,2,2,2,10,2,2,2,2,1,1,1,1,1,12,1,8,8,1,1,9,11,7,6,5,1,1,1,1,1}
\end{scope}
% ---------- panel i network ----------
\begin{scope}[shift={(1300,860)},xscale=0.3482,yscale=0.4209]
\def\nbw{4.5pt}\def\nbh{3.9pt}\def\npw{4pt}\def\nph{3.9pt}
\nP{I1}{5}{683}{46}\nP{I2}{5}{549}{68}\nP{I3}{5}{440}{150}\nB{I4}{5}{605}{210}\nP{I5}{5}{680}{362}
\nB{I6}{6}{866}{163}\nP{I7}{6}{1004}{163}\nB{I8}{6}{1142}{163}\nP{I9}{6}{1280}{163}
\nP{I10}{1}{766}{760}
\nB{I11}{1}{699}{542}\nB{I12}{1}{770}{572}\nB{I13}{1}{823}{580}\nB{I14}{1}{760}{621}\nB{I15}{1}{699}{645}\nB{I16}{1}{836}{657}\nB{I17}{1}{636}{670}\nB{I18}{1}{790}{684}\nB{I19}{1}{596}{706}\nB{I20}{1}{691}{731}\nB{I21}{1}{616}{749}\nB{I22}{1}{628}{797}\nB{I23}{1}{686}{810}
\nP{I24}{1}{565}{452}
\nP{I25}{11}{479}{541}\nB{I26}{11}{634}{616}
\nP{I27}{9}{890}{402}\nB{I28}{9}{886}{609}\nP{I29}{9}{1043}{653}\nB{I30}{9}{1145}{737}\nB{I31}{9}{1090}{885}
\nP{I32}{2}{1145}{925}
\nB{I33}{7}{1056}{488}\nB{I34}{7}{1130}{498}\nP{I35}{7}{1217}{338}\nP{I36}{7}{1005}{688}
\nB{I37}{3}{848}{860}\nB{I38}{3}{945}{860}\nB{I39}{3}{1033}{1007}\nB{I40}{3}{1020}{1040}\nB{I41}{3}{785}{1125}\nB{I42}{3}{842}{1120}\nB{I43}{3}{797}{1226}\nB{I44}{3}{853}{1223}\nP{I45}{3}{877}{1063}\nB{I46}{3}{838}{1276}\nP{I47}{3}{912}{734}\nP{I48}{3}{949}{958}\nP{I49}{3}{1120}{1253}
\nB{I50}{12}{718}{895}\nP{I51}{12}{878}{944}\nP{I52}{12}{578}{1020}
\nB{I53}{10}{1053}{1083}
\nB{I54}{2}{1238}{735}\nB{I55}{2}{1203}{753}\nB{I56}{2}{1278}{778}\nB{I57}{2}{1145}{795}\nB{I58}{2}{1235}{820}\nB{I59}{2}{1188}{853}\nB{I60}{2}{1288}{847}\nB{I61}{2}{1258}{920}\nB{I62}{2}{1315}{925}\nB{I63}{2}{1318}{983}\nB{I64}{2}{1195}{1005}\nB{I65}{2}{1253}{1003}\nB{I66}{2}{1302}{1037}\nB{I67}{2}{1268}{1074}
\nP{I68}{10}{1105}{1165}
\nB{I69}{2}{1342}{858}\nP{I70}{2}{1470}{755}\nP{I71}{2}{1497}{920}
\nB{I72}{10}{1190}{1068}\nB{I73}{10}{955}{1183}\nB{I74}{10}{958}{1220}\nB{I75}{10}{910}{1278}\nP{I76}{10}{1063}{1293}\nP{I77}{10}{1190}{1268}
\nB{I78}{8}{1185}{1137}\nP{I79}{8}{1118}{1363}\nB{I80}{8}{916}{1480}\nP{I81}{8}{697}{1435}\nB{I82}{8}{1226}{1500}
\nB{I83}{4}{600}{903}\nB{I84}{4}{357}{1008}\nB{I85}{4}{391}{1008}\nB{I86}{4}{408}{1083}\nB{I87}{4}{408}{1140}\nB{I88}{4}{566}{1263}\nB{I89}{4}{408}{1208}\nB{I90}{4}{483}{1233}\nB{I91}{4}{693}{1105}\nB{I92}{4}{710}{1157}
\nP{I93}{4}{432}{810}\nP{I94}{4}{537}{1080}\nP{I95}{4}{555}{1105}\nP{I96}{4}{327}{1358}\nP{I97}{4}{481}{1430}
\nP{I98}{5}{237}{1217}\nB{I99}{5}{109}{1302}
\begin{pgfonlayer}{edges}
\Eg{w2}{I4}{I1,I2,I3,I5}\Eg{w2}{I5}{I11}
\Eg{w2}{I6}{I7}\Eg{w2}{I8}{I9}
\Eg{w2}{I10}{I11,I12,I13,I14,I15,I16,I17,I18,I19,I20,I21,I22,I23,I26,I28,I37,I38,I50,I83}
\Eg{w2}{I24}{I11}\Eg{w2}{I25}{I26}
\Eg{w2}{I27}{I28}\Eg{w2}{I28}{I29}\Eg{w2}{I29}{I30,I68}\Eg{w2}{I31}{I32}
\Eg{w2}{I35}{I34}\Eg{w2}{I34}{I36}\Eg{w2}{I36}{I37}\Eg{w2}{I33}{I45}
\Eg{w2}{I37}{I47,I45,I48}\Eg{w2}{I38}{I32,I48,I45}\Eg{w2}{I48}{I39}
\Eg{w2}{I45}{I39,I40,I41,I42,I43,I44,I46,I53,I73,I75,I91,I92}\Eg{w1}{I45}{I74}
\Eg{w2}{I32}{I39,I40,I53,I72,I69,I54,I55,I56,I57,I58,I59,I60,I61,I62,I63,I64,I65,I66,I67}\Eg{w1}{I32}{I49,I78}
\Eg{w2}{I69}{I70,I71}
\Eg{w2}{I50}{I52}\Eg{w1}{I50}{I51}\Eg{w1}{I51}{I53}
\Eg{w2}{I53}{I68,I76}\Eg{w2}{I68}{I72,I73,I74,I77}\Eg{w2}{I76}{I73,I75}
\Eg{w2}{I78}{I79}\Eg{w2}{I79}{I80,I82}\Eg{w2}{I80}{I81}\Eg{w2}{I81}{I88}
\Eg{w2}{I93}{I83}\Eg{w2}{I83}{I94}\Eg{w1}{I83}{I95}\Eg{w2}{I52}{I88}
\Eg{w2}{I94}{I84,I85,I86,I91,I89,I90}\Eg{w2}{I95}{I85,I86,I87,I89,I88,I91,I92}
\Eg{w2}{I89}{I96,I98}\Eg{w2}{I88}{I97}\Eg{w2}{I98}{I99}
\end{pgfonlayer}
\end{scope}
% ---------- legend ----------
\begin{scope}[shift={(224,1636)},xscale=0.9083,yscale=0.3333]
\node[inner sep=0pt, font=\fontsize{9.2}{11}\selectfont] (lgP) at (236,65) {Probability};
\node[lg] (lgE) at (52,230) {EDGES};
\draw[black,line width=0.4pt] (187,213) -- (222,213);
\draw[black,line width=0.8pt] (187,330) -- (222,330);
\draw[black,line width=1.2pt] (187,450) -- (222,450);
\node[inner sep=0pt, anchor=west, font=\fontsize{7.6}{9}\selectfont] (lg1) at (240,213) {0.50};
\node[inner sep=0pt, anchor=west, font=\fontsize{7.6}{9}\selectfont] (lg2) at (240,330) {0.75};
\node[inner sep=0pt, anchor=west, font=\fontsize{7.6}{9}\selectfont] (lg3) at (240,450) {1.00};
\node[lg] (lgN) at (539,230) {NODES};
\node[ellipse, fill=black, inner sep=0pt, minimum width=4.6pt, minimum height=5.2pt] (lgB) at (652,172) {};
\node[lgs, anchor=west] (lgBt) at (668,172) {Butterfly};
\node[rectangle, fill=black, inner sep=0pt, minimum width=4.4pt, minimum height=5pt] (lgPl) at (652,290) {};
\node[lgs, anchor=west] (lgPt) at (668,290) {Plant};
\foreach \m/\x in {1/897,2/951,3/1004,4/1058,5/1113,6/1167,7/1221,8/1275,9/1330,10/1391,11/1456,12/1523}{
 \node[lg] (lgm\m) at (\x,175) {M\m};
 \node[ellipse, fill=cM\m, inner sep=0pt, minimum width=8.6pt, minimum height=9.4pt] (lgd\m) at (\x,276) {};}
\end{scope}
\end{tikzpicture}
\end{document}
